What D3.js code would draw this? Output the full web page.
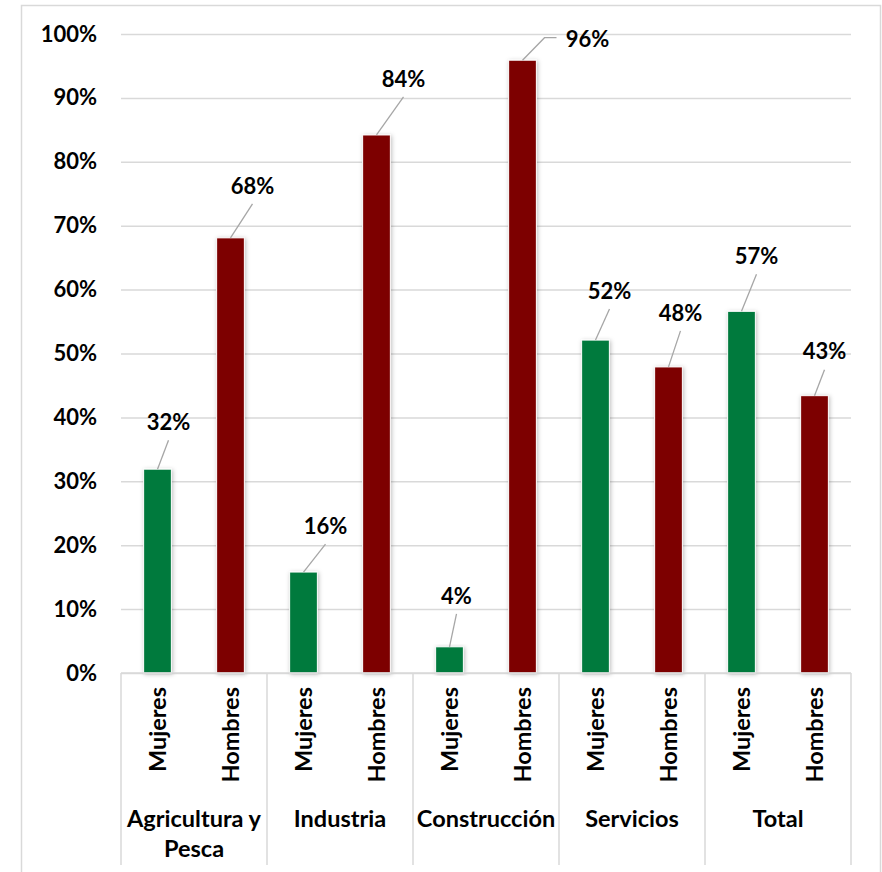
<!DOCTYPE html>
<html>
<head>
<meta charset="utf-8">
<script src="https://cdn.jsdelivr.net/npm/d3@7"></script>
<style>
  body { margin: 0; background: #fff; }
  svg text { font-family: Lato, "Open Sans", sans-serif; font-weight: bold; fill: #000; }
</style>
</head>
<body>
<div id="chart"></div>
<script>
// data
const sectors = ["Agricultura y|Pesca", "Industria", "Construcción", "Servicios", "Total"];
const sexes = ["Mujeres", "Hombres"];
const mujeres = [0.319, 0.158, 0.041, 0.521, 0.566];
const hombres = [0.681, 0.842, 0.959, 0.479, 0.434];
const yTicks = [0, 0.1, 0.2, 0.3, 0.4, 0.5, 0.6, 0.7, 0.8, 0.9, 1];

// where Excel's labels were dragged to (px from bar top centre)
const labelNudge = [[11, -47], [22, -52], [22, -46], [27, -56], [7, -51],
                    [65, -21], [14, -49], [12, -54], [15, -55], [10, -44]];

const colors = { Mujeres: "#007a3e", Hombres: "#7d0000" };

const width = 882, height = 872;
const margin = { top: 34, bottom: 199, left: 121, right: 31 };

const rows = [];
sectors.forEach((s, i) => {
  rows.push({ sector: s, sex: "Mujeres", value: mujeres[i] });
  rows.push({ sector: s, sex: "Hombres", value: hombres[i] });
});
rows.forEach((d, i) => d.nudge = labelNudge[i]);

const x0 = d3.scaleBand()
  .domain(sectors)
  .range([margin.left, width - margin.right]);
const x1 = d3.scaleBand()
  .domain(sexes)
  .range([0, x0.bandwidth()])
  .paddingInner(0.62)
  .paddingOuter(0.31);
const y = d3.scaleLinear()
  .domain([0, 1])
  .range([height - margin.bottom, margin.top]);

const svg = d3.select("#chart").append("svg")
  .attr("width", width)
  .attr("height", height);

const defs = svg.append("defs");
defs.append("filter").attr("id", "shadow")
  .attr("x", "-30%").attr("y", "-10%").attr("width", "160%").attr("height", "120%")
  .append("feDropShadow")
  .attr("dx", 1).attr("dy", 1).attr("stdDeviation", 2)
  .attr("flood-color", "#000").attr("flood-opacity", 0.25);

// chart border
svg.append("rect")
  .attr("x", 21.5).attr("y", 5.5)
  .attr("width", 859).attr("height", 880)
  .attr("fill", "none").attr("stroke", "#d9d9d9").attr("stroke-width", 1.5);

// gridlines + y axis labels
const yAxis = d3.axisLeft(y)
  .tickValues(yTicks)
  .tickFormat(d3.format(".0%"))
  .tickSize(-(width - margin.left - margin.right))
  .tickPadding(24);
const gy = svg.append("g")
  .attr("transform", `translate(${margin.left},0)`)
  .call(yAxis);
gy.select(".domain").remove();
gy.selectAll(".tick line").attr("stroke", "#d9d9d9").attr("stroke-width", 1.5);
gy.selectAll(".tick text").style("font-size", "22px");

// bars
svg.append("g").selectAll("rect")
  .data(rows)
  .join("rect")
  .attr("x", d => x0(d.sector) + x1(d.sex))
  .attr("y", d => y(d.value))
  .attr("width", x1.bandwidth())
  .attr("height", d => y(0) - y(d.value))
  .attr("fill", d => colors[d.sex])
  .attr("stroke", "#fff")
  .attr("stroke-width", 1)
  .attr("filter", "url(#shadow)");

// category axis box
const base = y(0);
const boxBottom = 865;
svg.append("line")
  .attr("x1", margin.left).attr("x2", width - margin.right)
  .attr("y1", base).attr("y2", base)
  .attr("stroke", "#d9d9d9").attr("stroke-width", 1.5);
const seps = sectors.map(s => x0(s)).concat([x0.range()[1]]);
svg.append("g").selectAll("line")
  .data(seps)
  .join("line")
  .attr("x1", d => d).attr("x2", d => d)
  .attr("y1", base).attr("y2", boxBottom)
  .attr("stroke", "#d9d9d9").attr("stroke-width", 1.5);

// rotated sex labels
svg.append("g").selectAll("text")
  .data(rows)
  .join("text")
  .attr("transform", d => `translate(${x0(d.sector) + x1(d.sex) + x1.bandwidth() / 2},${base + 14}) rotate(-90)`)
  .attr("text-anchor", "end")
  .attr("dy", "0.36em")
  .style("font-size", "23.5px")
  .text(d => d.sex);

// sector labels
svg.append("g").selectAll("text")
  .data(sectors)
  .join("text")
  .attr("x", d => x0(d) + x0.bandwidth() / 2)
  .attr("y", 827)
  .attr("text-anchor", "middle")
  .style("font-size", "23.5px")
  .each(function (d) {
    const t = d3.select(this);
    d.split("|").forEach((part, i) => {
      t.append("tspan")
        .attr("x", x0(d) + x0.bandwidth() / 2)
        .attr("dy", i === 0 ? 0 : 30)
        .text(part);
    });
  });

// data labels with leader lines
const cx = d => x0(d.sector) + x1(d.sex) + x1.bandwidth() / 2;
const leaders = svg.append("g");
rows.forEach(d => {
  const bx = cx(d), by = y(d.value);
  const lx = bx + d.nudge[0], ly = by + d.nudge[1];
  let pts;
  if (d.nudge[1] > -30) {
    // label pushed sideways: elbow leader
    pts = [[bx, by], [bx + 22, ly - 1.5], [lx - 31, ly - 1.5]];
  } else {
    pts = [[bx, by], [lx, ly + 18]];
  }
  leaders.append("path")
    .attr("d", d3.line()(pts))
    .attr("fill", "none")
    .attr("stroke", "#a6a6a6")
    .attr("stroke-width", 1.3);
});
svg.append("g").selectAll("text")
  .data(rows)
  .join("text")
  .attr("x", d => cx(d) + d.nudge[0])
  .attr("y", d => y(d.value) + d.nudge[1])
  .attr("dy", "0.35em")
  .attr("text-anchor", "middle")
  .style("font-size", "22px")
  .text(d => d3.format(".0%")(d.value));
</script>
</body>
</html>
